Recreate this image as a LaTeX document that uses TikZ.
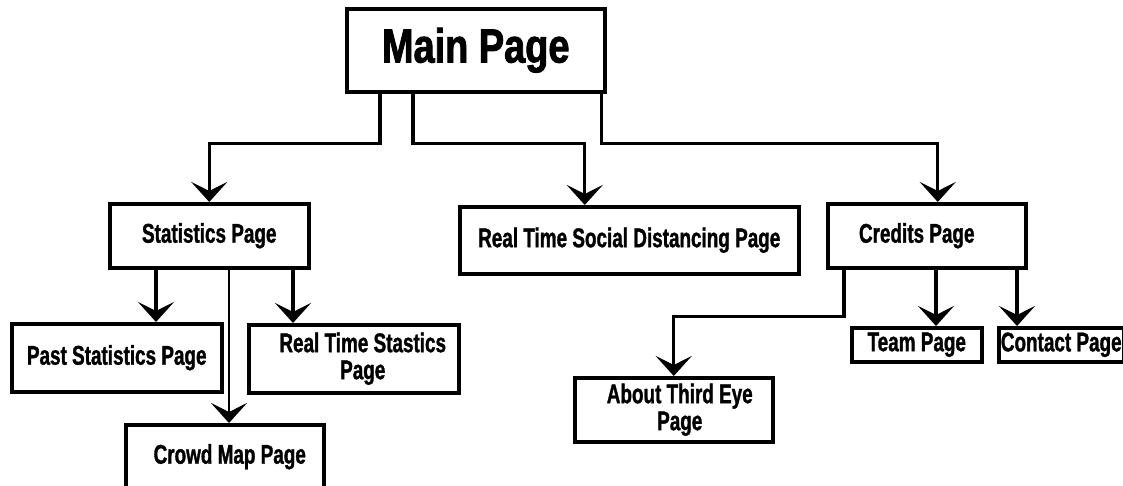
\documentclass[tikz,border=0pt]{standalone}
\usepackage{fontspec}
\setmainfont{Liberation Sans}
\newfontfamily\boxfont{Liberation Sans}[FakeStretch=0.70,FakeBold=1.2]
\newfontfamily\titlefont{Liberation Sans}[FakeStretch=0.79,FakeBold=1.8]
\usetikzlibrary{arrows.meta}
\begin{document}
\begin{tikzpicture}[x=1pt,y=-1pt,
  pagebox/.style={draw, line width=3.5pt, rectangle, anchor=north west, inner sep=0pt,
    align=center, font=\boxfont\bfseries\fontsize{27}{27}\selectfont},
  conn/.style={line width=3.2pt, -{Stealth[length=20pt,width=36pt,inset=9pt]}},
  thinconn/.style={conn, line width=2.2pt}]
\useasboundingbox[fill=white] (0,0) rectangle (1123,485);

% boxes
\node[pagebox, minimum width=258pt, minimum height=83pt,
      font=\titlefont\bfseries\fontsize{48}{50}\selectfont] (main) at (345,7) {Main Page};
\node[pagebox, minimum width=199pt, minimum height=64pt] (stats) at (108,202) {Statistics Page};
\node[pagebox, minimum width=339pt, minimum height=67pt] (rtsd) at (458,205) {Real Time Social Distancing Page};
\node[pagebox, minimum width=198pt, minimum height=64pt] (credits) at (826,202) {Credits Page\hspace*{20pt}};
\node[pagebox, minimum width=210pt, minimum height=68pt] (past) at (10,322) {Past Statistics Page};
\node[pagebox, minimum width=210pt, minimum height=68pt] (rts) at (247,323) {\hspace*{18pt}Real Time Stastics\\\hspace*{18pt}Page};
\node[pagebox, minimum width=198pt, minimum height=64pt] (crowd) at (124,423) {\hspace*{10pt}Crowd Map Page};
\node[pagebox, minimum width=130pt, minimum height=34pt] (team) at (850,326) {Team Page};
\node[pagebox, minimum width=125pt, minimum height=34pt] (contact) at (997,326) {Contact Page};
\node[pagebox, minimum width=198pt, minimum height=64pt] (about) at (573,376) {\hspace*{12pt}About Third Eye\\\hspace*{12pt}Page};

% connector start points
\coordinate (m1) at ([xshift=35pt]main.south west);
\coordinate (m2) at ([xshift=68pt]main.south west);
\coordinate (m3) at ([xshift=-5pt]main.south east);
\coordinate (s1) at ([xshift=48pt]stats.south west);
\coordinate (s2) at ([xshift=121pt]stats.south west);
\coordinate (s3) at ([xshift=185pt]stats.south west);
\coordinate (c1) at ([xshift=18pt]credits.south west);
\coordinate (c2) at ([xshift=110pt]credits.south west);
\coordinate (c3) at ([xshift=191pt]credits.south west);

% connectors from main page
\draw[conn] (m1) -- ++(0,50) -| (stats.north);
\draw[conn] (m2) -- ++(0,50) -| ([xshift=-44.5pt]rtsd.north);
\draw[conn] (m3) -- ++(0,50) -| ([xshift=11pt]credits.north);

% connectors from statistics page
\draw[conn] (s1) -- (s1 |- past.north);
\draw[thinconn] (s2) -- (s2 |- crowd.north);
\draw[conn] (s3) -- (s3 |- rts.north);

% connectors from credits page
\draw[conn] (c1) -- ++(0,47) -| (about.north);
\draw[conn] (c2) -- (c2 |- team.north);
\draw[conn] (c3) -- (c3 |- contact.north);
\end{tikzpicture}
\end{document}
